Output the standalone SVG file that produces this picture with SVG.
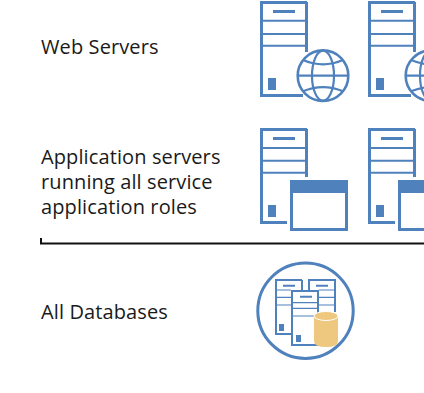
<svg xmlns="http://www.w3.org/2000/svg" width="424" height="393" viewBox="0 0 424 393">
<style>
text{font-family:"Open Sans","Noto Sans","Liberation Sans",sans-serif;font-size:20px;letter-spacing:.11px;fill:#1a1a1a}
.s{fill:none;stroke:#4f81bd;stroke-width:3}
.d{fill:none;stroke:#4f81bd;stroke-width:2}
.f{fill:#4f81bd}
.g{fill:#fff;stroke:#4f81bd;stroke-width:2.6}
.t{fill:none;stroke:#4f81bd;stroke-width:2.2}
.m{fill:none;stroke:#4f81bd;stroke-width:2}
.n{fill:none;stroke:#4f81bd;stroke-width:1.200}
</style>
<defs>
<g id="web">
<path class="s" d="M307 2.500H261.500V95.500H303M306.500 2V52"/>
<path class="d" d="M261.500 20.700H306.500M261.500 34H306.500M261.500 45.700H306.500"/>
<path class="s" d="M273 11.500H295"/>
<rect class="f" x="268" y="78" width="8" height="12"/>
<circle class="g" cx="323" cy="75.700" r="25.300"/>
<ellipse class="t" cx="323" cy="75.700" rx="11" ry="25"/>
<path class="t" d="M298 75.700H348M303 60Q323 68.600 343 60M303 91.300Q323 82.800 343 91.300"/>
</g>
<g id="app">
<path class="s" d="M307 129.500H261.500V222.500H287M306.500 129V177"/>
<path class="d" d="M261.500 148H306.500M261.500 160.700H306.500M261.500 172.700H306.500"/>
<path class="s" d="M273 138.500H295"/>
<rect class="f" x="268" y="205" width="8" height="12"/>
<rect class="s" x="291.500" y="181.500" width="55" height="48"/>
<rect class="f" x="290" y="180" width="58" height="13"/>
</g>
</defs>
<g id="web-servers-label"><text x="41" y="54">Web Servers</text></g>
<g id="web-server-1"><use href="#web"/></g>
<g id="web-server-2"><use href="#web" x="108"/></g>
<g id="app-servers-label"><text x="41" y="164">Application servers</text><text x="41" y="189">running all service</text><text x="41" y="214">application roles</text></g>
<g id="app-server-1"><use href="#app"/></g>
<g id="app-server-2"><use href="#app" x="108"/></g>
<g id="divider"><path d="M41 238V243.500H424" fill="none" stroke="#111" stroke-width="2"/></g>
<g id="databases-label"><text x="41" y="319">All Databases</text></g>
<g id="database">
<circle class="s" cx="305.500" cy="310.700" r="47.700"/>
<path class="m" d="M302 280H276V334H291M302 280V290"/>
<path class="n" d="M276 290H291M276 297.300H291M276 305H291"/>
<path class="m" d="M309 290V280H335V312"/>
<path class="n" d="M319 290H335M319 297.300H335M319 305H335"/>
<rect class="m" x="292" y="291" width="26" height="54"/>
<path class="n" d="M292 302.700H318M292 308.300H318M292 316H314"/>
<path class="m" d="M283 285.700H295M316 285.700H328M300 296.700H312"/>
<rect class="f" x="279" y="324" width="5" height="7"/>
<rect class="f" x="296" y="335" width="5" height="7"/>
<path d="M314 316V341Q314 347 326 347Q338 347 338 341V316Z" fill="#edc87e"/>
<ellipse cx="326" cy="316" rx="12" ry="4.500" fill="#edc87e" stroke="#fff" stroke-width="1"/>
</g>
</svg>
